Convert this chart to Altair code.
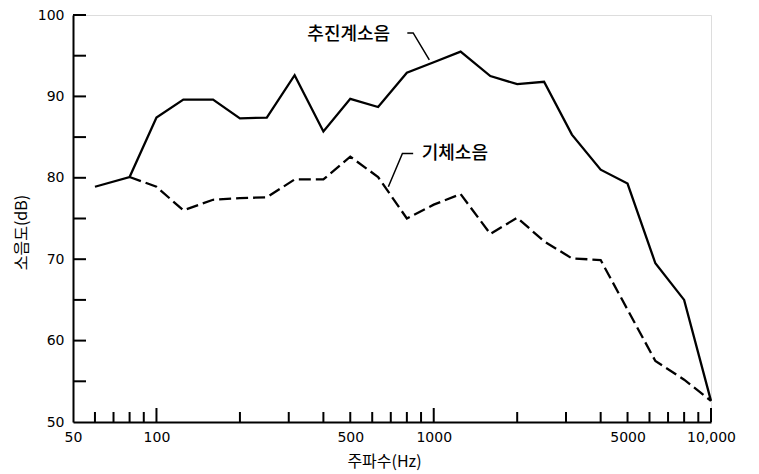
import altair as alt
import pandas as pd

# --- data ---
freq_prop = [60, 80, 100, 125, 160, 200, 250, 315, 400, 500, 630, 800, 1000,
             1250, 1600, 2000, 2500, 3150, 4000, 5000, 6300, 8000, 10000]
db_prop = [78.9, 80.1, 87.4, 89.6, 89.6, 87.3, 87.4, 92.6, 85.7, 89.7, 88.7, 92.9, 94.2,
           95.5, 92.5, 91.5, 91.8, 85.3, 81.0, 79.3, 69.5, 65.0, 52.6]
freq_body = [80, 100, 125, 160, 200, 250, 315, 400, 500, 630, 800, 1000,
             1250, 1600, 2000, 2500, 3150, 4000, 5000, 6300, 8000, 10000]
db_body = [80.1, 78.9, 76.0, 77.3, 77.5, 77.6, 79.8, 79.8, 82.6, 80.1, 75.0, 76.7,
           78.0, 73.1, 75.1, 72.2, 70.1, 69.9, 63.8, 57.5, 55.2, 52.6]

x_label_values = [50, 100, 500, 1000, 5000, 10000]
x_label_texts = ["50", "100", "500", "1000", "5000", "10,000"]
x_major_ticks = [100, 1000, 10000]
x_minor_ticks = [60, 70, 80, 90, 200, 300, 400, 500, 600, 700, 800, 900,
                 2000, 3000, 4000, 5000, 6000, 7000, 8000, 9000]
y_ticks = [55, 60, 65, 70, 75, 80, 85, 90, 95, 100]
y_label_values = [50, 60, 70, 80, 90, 100]

series_names = ["추진계소음", "기체소음"]
label_pos = [(350, 97.6), (905, 82.9)]
leader_prop_f = [803, 843, 964]
leader_prop_db = [97.8, 97.8, 94.5]
leader_body_f = [843, 771, 686]
leader_body_db = [83.0, 83.0, 78.9]

x_title = "주파수(Hz)"
y_title = "소음도(dB)"

W, H = 638, 407
KFONT = "Noto Sans CJK KR"
NFONT = "DejaVu Sans"

xscale = alt.Scale(type="log", domain=[50, 10000], nice=False)
yscale = alt.Scale(domain=[50, 100], nice=False, zero=False)

label_expr = " : ".join(
    [f"datum.value == {v} ? '{t}'" for v, t in zip(x_label_values, x_label_texts)]
) + " : ''"

xaxis = alt.Axis(values=x_label_values, labelExpr=label_expr, ticks=False, grid=False,
                 domainColor="black", domainWidth=2, labelFont=NFONT, labelFontSize=14,
                 labelColor="black", labelPadding=8, title=x_title, titleFont=KFONT,
                 titleFontSize=16, titleFontWeight="normal", titleColor="black",
                 titleX=311, titleY=39, titleBaseline="middle", titleAlign="center",
                 labelFlush=False, labelOverlap=False)
yaxis = alt.Axis(values=y_label_values, ticks=False, grid=False, domainColor="black",
                 domainWidth=2, labelFont=NFONT, labelFontSize=14, labelColor="black",
                 labelPadding=9, title=y_title, titleFont=KFONT, titleFontSize=16,
                 titleFontWeight="normal", titleColor="black", titleAngle=270,
                 titleX=-52, titleY=217, titleBaseline="middle", titleAlign="center")

df_prop = pd.DataFrame({"f": freq_prop, "db": db_prop})
df_body = pd.DataFrame({"f": freq_body, "db": db_body})

line_prop = alt.Chart(df_prop).mark_line(color="black", strokeWidth=2.3).encode(
    x=alt.X("f:Q", scale=xscale, axis=xaxis),
    y=alt.Y("db:Q", scale=yscale, axis=yaxis),
)
line_body = alt.Chart(df_body).mark_line(color="black", strokeWidth=2.3,
                                         strokeDash=[12, 5]).encode(
    x=alt.X("f:Q", scale=xscale),
    y=alt.Y("db:Q", scale=yscale),
)

yt = alt.Chart(pd.DataFrame({"v": y_ticks})).mark_rule(color="black", strokeWidth=2).encode(
    y=alt.Y("v:Q", scale=yscale), x=alt.value(0), x2=alt.value(13))
xt_major = alt.Chart(pd.DataFrame({"f": x_major_ticks})).mark_rule(
    color="black", strokeWidth=2).encode(
    x=alt.X("f:Q", scale=xscale), y=alt.value(H), y2=alt.value(H - 14))
xt_minor = alt.Chart(pd.DataFrame({"f": x_minor_ticks})).mark_rule(
    color="black", strokeWidth=2).encode(
    x=alt.X("f:Q", scale=xscale), y=alt.value(H), y2=alt.value(H - 10))

df_labels = pd.DataFrame({"name": series_names,
                          "f": [p[0] for p in label_pos],
                          "db": [p[1] for p in label_pos]})
labels = alt.Chart(df_labels).mark_text(align="left", baseline="middle", font=KFONT,
                                        fontSize=18, fontWeight=500, color="black").encode(
    x=alt.X("f:Q", scale=xscale), y=alt.Y("db:Q", scale=yscale), text="name:N")

lead1 = alt.Chart(pd.DataFrame({"f": leader_prop_f, "db": leader_prop_db,
                                "o": [0, 1, 2]})).mark_line(
    color="black", strokeWidth=1.5).encode(
    x=alt.X("f:Q", scale=xscale), y=alt.Y("db:Q", scale=yscale), order="o:O")
lead2 = alt.Chart(pd.DataFrame({"f": leader_body_f, "db": leader_body_db,
                                "o": [0, 1, 2]})).mark_line(
    color="black", strokeWidth=1.5).encode(
    x=alt.X("f:Q", scale=xscale), y=alt.Y("db:Q", scale=yscale), order="o:O")

chart = alt.layer(line_prop, line_body, yt, xt_major, xt_minor, lead1, lead2, labels).properties(
    width=W, height=H,
    autosize=alt.AutoSizeParams(type="none"),
    padding={"left": 65, "top": 7, "right": 40, "bottom": 51},
).configure_view(stroke=None).configure(background="white")

chart.save("out.html", embed_options={"renderer": "svg", "actions": False})
